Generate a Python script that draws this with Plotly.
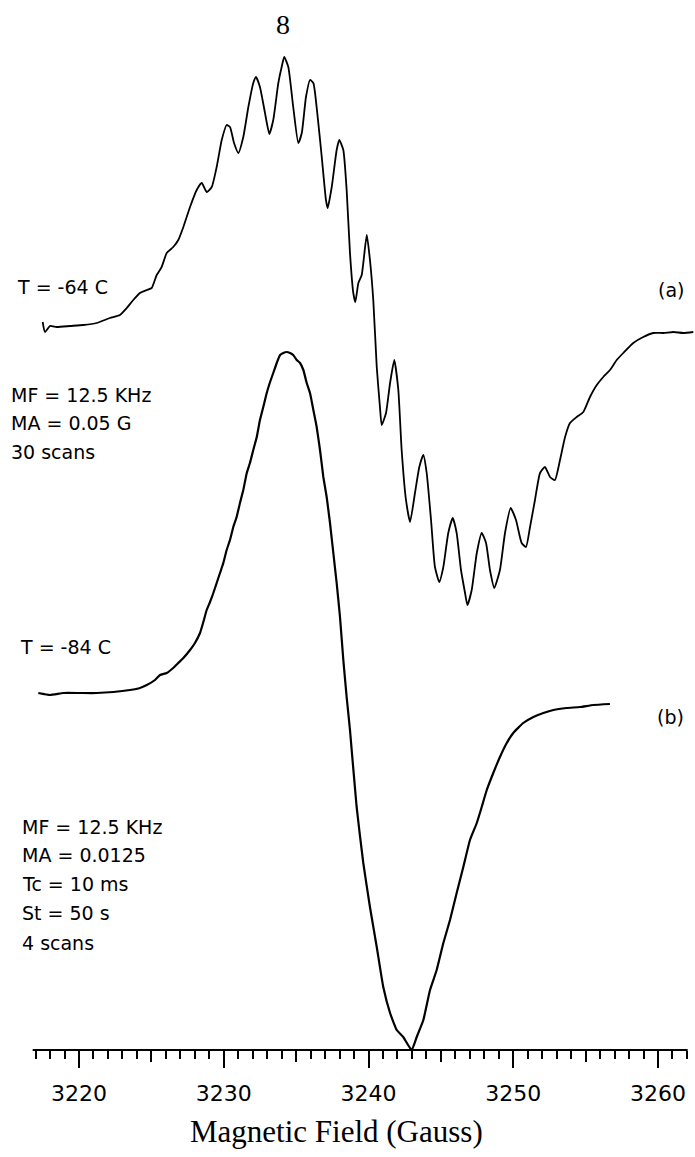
import plotly.graph_objects as go

# ---- data (field in Gauss, derivative signal in arbitrary units) ----
field_a = [3217.49, 3217.65, 3218.00, 3218.46, 3219.38, 3220.30, 3221.22, 3222.14, 3222.83, 3223.30,
           3223.75, 3224.21, 3224.68, 3225.02, 3225.37, 3225.71, 3226.06, 3226.51, 3226.86, 3227.21,
           3227.67, 3228.13, 3228.48, 3228.82, 3229.17, 3229.51, 3229.86, 3230.20, 3230.43, 3230.71,
           3231.01, 3231.35, 3231.70, 3232.04, 3232.23, 3232.50, 3232.85, 3233.15, 3233.42, 3233.77,
           3234.00, 3234.18, 3234.46, 3234.80, 3235.15, 3235.39, 3235.68, 3235.96, 3236.19, 3236.46,
           3236.77, 3237.06, 3237.18, 3237.46, 3237.80, 3237.98, 3238.26, 3238.49, 3238.72, 3238.95,
           3239.09, 3239.30, 3239.53, 3239.88, 3240.10, 3240.33, 3240.57, 3240.79, 3240.91, 3241.21,
           3241.49, 3241.78, 3242.06, 3242.29, 3242.59, 3242.87, 3243.21, 3243.51, 3243.79, 3244.02,
           3244.32, 3244.59, 3244.89, 3245.17, 3245.51, 3245.82, 3246.09, 3246.39, 3246.67, 3246.83,
           3247.13, 3247.48, 3247.82, 3248.12, 3248.39, 3248.69, 3249.08, 3249.43, 3249.82, 3250.19,
           3250.58, 3250.88, 3251.16, 3251.50, 3251.85, 3252.19, 3252.54, 3252.88, 3253.23, 3253.58,
           3253.92, 3254.38, 3254.84, 3255.30, 3255.77, 3256.22, 3256.68, 3257.15, 3257.60, 3258.29,
           3258.98, 3259.68, 3260.37, 3261.06, 3261.75, 3262.44]
signal_a = [4, -6, 0, -1, 0, 1, 3, 8, 11, 18,
            26, 33, 36, 38, 51, 59, 73, 79, 86, 99,
            119, 136, 143, 134, 139, 159, 186, 201, 199, 183,
            173, 189, 219, 243, 249, 239, 213, 192, 206, 243,
            259, 269, 259, 219, 183, 193, 229, 246, 243, 213,
            169, 126, 118, 139, 176, 186, 176, 136, 73, 33,
            24, 43, 51, 91, 66, 26, -41, -81, -99, -87,
            -57, -34, -64, -124, -174, -196, -167, -141, -129, -147,
            -194, -241, -256, -241, -207, -192, -207, -244, -267, -279,
            -264, -227, -207, -217, -244, -262, -244, -207, -182, -194,
            -217, -221, -201, -174, -147, -141, -151, -154, -134, -111,
            -97, -91, -86, -71, -59, -51, -44, -34, -27, -17,
            -11, -7, -7, -6, -7, -6]

field_b = [3217.19, 3218.00, 3218.92, 3220.07, 3221.22, 3222.37, 3223.52, 3224.21, 3224.68, 3225.25,
           3225.60, 3226.06, 3226.51, 3226.86, 3227.21, 3227.67, 3228.01, 3228.36, 3228.59, 3228.82,
           3229.05, 3229.28, 3229.51, 3229.74, 3229.97, 3230.20, 3230.43, 3230.66, 3230.89, 3231.12,
           3231.35, 3231.59, 3231.81, 3232.04, 3232.28, 3232.50, 3232.73, 3232.97, 3233.20, 3233.42,
           3233.66, 3233.89, 3234.11, 3234.35, 3234.58, 3234.80, 3235.04, 3235.27, 3235.50, 3235.73,
           3235.96, 3236.19, 3236.42, 3236.65, 3236.88, 3237.11, 3237.34, 3237.57, 3237.80, 3238.03,
           3238.26, 3238.49, 3238.72, 3239.18, 3239.64, 3240.10, 3240.57, 3241.02, 3241.49, 3241.95,
           3242.40, 3242.98, 3243.33, 3243.79, 3244.25, 3244.71, 3245.17, 3245.63, 3246.09, 3246.55,
           3247.01, 3247.48, 3247.82, 3248.17, 3248.62, 3249.08, 3249.55, 3250.00, 3250.69, 3251.39,
           3252.08, 3252.77, 3253.69, 3254.61, 3255.53, 3256.68]
signal_b = [0, -2, 0, 0, 0, 1, 3, 5, 8, 13,
            18, 20, 25, 30, 35, 43, 50, 60, 71, 83,
            91, 100, 110, 120, 130, 143, 153, 166, 176, 190,
            203, 220, 230, 243, 256, 273, 286, 300, 311, 320,
            330, 338, 340, 341, 340, 338, 333, 330, 323, 310,
            300, 283, 266, 243, 216, 196, 170, 140, 110, 76,
            33, -4, -37, -114, -170, -214, -254, -294, -320, -337,
            -344, -357, -344, -327, -297, -277, -250, -227, -200, -174,
            -147, -130, -114, -97, -80, -64, -50, -40, -30, -24,
            -20, -17, -15, -14, -12, -11]

major_ticks = [3220, 3230, 3240, 3250, 3260]
medium_ticks = [3225, 3235, 3245, 3255]
minor_ticks = [v for v in range(3217, 3263) if v not in major_ticks and v not in medium_ticks]
tick_labels = ["3220", "3230", "3240", "3250", "3260"]

# ---- layout constants ----
W, H = 695, 1157
BOTTOM = 107
PLOT_H = H - BOTTOM
X_RANGE = [3214.542, 3262.556]
Y_RANGE = [0, PLOT_H]
OFFSET_A = 724
OFFSET_B = 357
AXIS_START, AXIS_END = 3216.8, 3262.05

SANS = "DejaVu Sans"
SERIF = "Liberation Serif"

fig = go.Figure()
fig.add_trace(go.Scatter(x=field_a, y=[v + OFFSET_A for v in signal_a], mode="lines",
                         line=dict(color="black", width=1.8, shape="spline", smoothing=0.5),
                         name="(a) T = -64 C", showlegend=False, hoverinfo="skip"))
fig.add_trace(go.Scatter(x=field_b, y=[v + OFFSET_B for v in signal_b], mode="lines",
                         line=dict(color="black", width=2.2, shape="spline", smoothing=0.4),
                         name="(b) T = -84 C", showlegend=False, hoverinfo="skip", xaxis="x2"))

def py(ypx):
    return (PLOT_H - ypx) / PLOT_H

def px(xpx):
    return xpx / W

annotations = []

def add_text(text, x, y, size=19, font=SANS, xanchor="left"):
    annotations.append(dict(text=text, x=px(x), y=py(y), xref="paper", yref="paper",
                            xanchor=xanchor, yanchor="middle", showarrow=False,
                            font=dict(family=font, size=size, color="black")))

add_text("8", 282.7, 24.7, size=28, font=SERIF, xanchor="center")
add_text("T = -64 C", 15, 287)
add_text("(a)", 656, 290)
add_text("MF = 12.5 KHz", 9, 395)
add_text("MA = 0.05 G", 9, 423.3)
add_text("30 scans", 9, 451.7)
add_text("T = -84 C", 18, 646.7)
add_text("(b)", 655, 716.7)
add_text("MF = 12.5 KHz", 20, 826.7)
add_text("MA = 0.0125", 20, 855)
add_text("Tc = 10 ms", 20, 884.3)
add_text("St = 50 s", 20, 913.3)
add_text("4 scans", 20, 942.7)
add_text("Magnetic Field (Gauss)", 336, 1131, size=31, font=SERIF, xanchor="center")

fig.update_layout(
    width=W, height=H,
    margin=dict(l=0, r=0, t=0, b=BOTTOM, pad=0),
    paper_bgcolor="white", plot_bgcolor="white",
    showlegend=False,
    annotations=annotations,
    shapes=[dict(type="line", xref="x", yref="paper", x0=AXIS_START, x1=AXIS_END, y0=0, y1=0,
                 line=dict(color="black", width=2))],
    xaxis=dict(range=X_RANGE, showgrid=False, zeroline=False, showline=False,
               tickmode="array", tickvals=major_ticks, ticktext=tick_labels,
               ticks="outside", ticklen=17, tickwidth=1.6, tickcolor="black",
               ticklabelstandoff=7,
               tickfont=dict(family=SANS, size=22, color="black"),
               minor=dict(tickmode="array", tickvals=minor_ticks, ticks="outside",
                          ticklen=8, tickwidth=1.6, tickcolor="black", showgrid=False),
               fixedrange=True),
    xaxis2=dict(range=X_RANGE, overlaying="x", anchor="y", side="bottom",
                showgrid=False, zeroline=False, showline=False,
                tickmode="array", tickvals=medium_ticks, showticklabels=False,
                ticks="outside", ticklen=11, tickwidth=1.6, tickcolor="black",
                fixedrange=True),
    yaxis=dict(range=Y_RANGE, visible=False, showgrid=False, zeroline=False, fixedrange=True),
)

fig.write_html("out.html", config={"displayModeBar": False},
               post_script="document.body.style.margin='0';document.body.style.overflow='hidden';")
